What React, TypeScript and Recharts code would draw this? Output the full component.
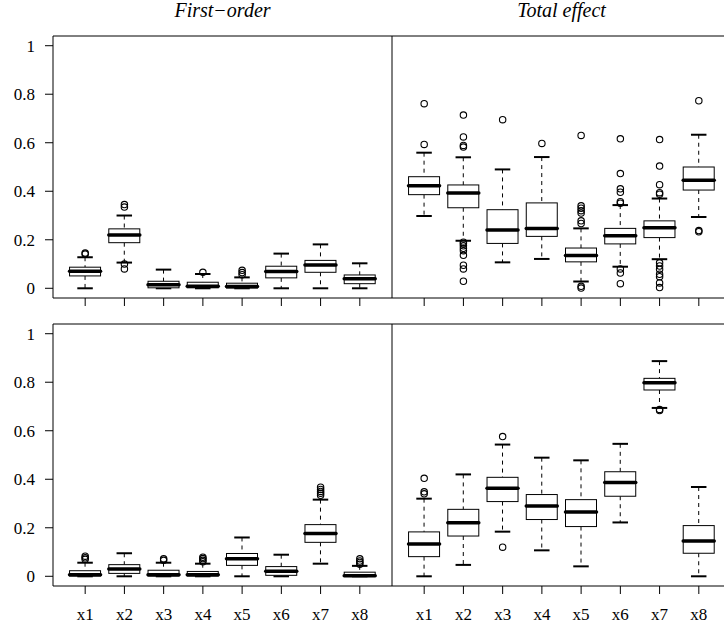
import React from 'react';
import { ComposedChart, Bar, Scatter, XAxis, YAxis, ReferenceArea } from 'recharts';

const categories = ['x1', 'x2', 'x3', 'x4', 'x5', 'x6', 'x7', 'x8'];
const yTicks = [0, 0.2, 0.4, 0.6, 0.8, 1];
const xTicks = [1, 2, 3, 4, 5, 6, 7, 8];

// Row 1, First-order
const r1FirstLow = [0.0, 0.106, 0.0, 0.0, 0.0, 0.0, 0.0, 0.0];
const r1FirstQ1 = [0.051, 0.188, 0.002, 0.002, 0.001, 0.043, 0.066, 0.019];
const r1FirstMed = [0.07, 0.22, 0.015, 0.008, 0.007, 0.069, 0.096, 0.039];
const r1FirstQ3 = [0.087, 0.245, 0.029, 0.025, 0.021, 0.091, 0.115, 0.055];
const r1FirstHigh = [0.128, 0.3, 0.077, 0.059, 0.045, 0.143, 0.181, 0.103];
const r1FirstOut = [
  [1, 0.145], [1, 0.141], [2, 0.345], [2, 0.335], [2, 0.1], [2, 0.08],
  [4, 0.066], [5, 0.074], [5, 0.065], [5, 0.056],
];

// Row 1, Total effect
const r1TotalLow = [0.298, 0.196, 0.107, 0.121, 0.028, 0.089, 0.12, 0.294];
const r1TotalQ1 = [0.386, 0.332, 0.185, 0.214, 0.109, 0.183, 0.209, 0.405];
const r1TotalMed = [0.423, 0.393, 0.24, 0.247, 0.135, 0.217, 0.25, 0.445];
const r1TotalQ3 = [0.46, 0.426, 0.324, 0.352, 0.166, 0.247, 0.278, 0.5];
const r1TotalHigh = [0.559, 0.54, 0.49, 0.541, 0.247, 0.343, 0.37, 0.633];
const r1TotalOut = [
  [1, 0.761], [1, 0.593],
  [2, 0.714], [2, 0.624], [2, 0.589], [2, 0.582], [2, 0.19], [2, 0.184], [2, 0.175],
  [2, 0.165], [2, 0.155], [2, 0.136], [2, 0.095], [2, 0.08], [2, 0.029],
  [3, 0.695], [4, 0.597],
  [5, 0.63], [5, 0.34], [5, 0.33], [5, 0.32], [5, 0.31], [5, 0.278], [5, 0.267],
  [5, 0.008], [5, 0.001],
  [6, 0.616], [6, 0.473], [6, 0.41], [6, 0.396], [6, 0.357], [6, 0.351],
  [6, 0.08], [6, 0.063], [6, 0.019],
  [7, 0.613], [7, 0.504], [7, 0.427], [7, 0.394], [7, 0.388],
  [7, 0.105], [7, 0.092], [7, 0.078], [7, 0.058], [7, 0.048], [7, 0.022], [7, 0.003],
  [8, 0.773], [8, 0.238], [8, 0.233],
];

// Row 2, First-order
const r2FirstLow = [0.0, 0.0, 0.0, 0.0, 0.0, 0.0, 0.052, 0.0];
const r2FirstQ1 = [0.001, 0.012, 0.001, 0.001, 0.045, 0.004, 0.14, 0.0];
const r2FirstMed = [0.006, 0.03, 0.006, 0.006, 0.072, 0.021, 0.176, 0.002];
const r2FirstQ3 = [0.023, 0.048, 0.025, 0.02, 0.094, 0.04, 0.213, 0.017];
const r2FirstHigh = [0.056, 0.095, 0.056, 0.052, 0.16, 0.089, 0.316, 0.043];
const r2FirstOut = [
  [1, 0.083], [1, 0.076], [1, 0.07], [3, 0.072], [3, 0.066],
  [4, 0.079], [4, 0.073], [4, 0.066], [4, 0.06],
  [7, 0.367], [7, 0.358], [7, 0.35], [7, 0.342], [7, 0.334],
  [8, 0.072], [8, 0.063], [8, 0.057], [8, 0.05],
];

// Row 2, Total effect
const r2TotalLow = [0.0, 0.047, 0.184, 0.107, 0.041, 0.222, 0.694, 0.0];
const r2TotalQ1 = [0.081, 0.166, 0.308, 0.234, 0.205, 0.33, 0.768, 0.095];
const r2TotalMed = [0.133, 0.221, 0.363, 0.29, 0.265, 0.387, 0.798, 0.146];
const r2TotalQ3 = [0.183, 0.276, 0.408, 0.337, 0.316, 0.431, 0.816, 0.209];
const r2TotalHigh = [0.32, 0.42, 0.543, 0.489, 0.478, 0.546, 0.887, 0.368];
const r2TotalOut = [
  [1, 0.404], [1, 0.348], [1, 0.34], [3, 0.576], [3, 0.12], [7, 0.683], [7, 0.688],
];

type Row = { x: number; name: string; lo: number; q1: number; med: number; q3: number; hi: number };

function buildRows(lo: number[], q1: number[], med: number[], q3: number[], hi: number[]): Row[] {
  return categories.map((name, i) => ({ x: i + 1, name, lo: lo[i], q1: q1[i], med: med[i], q3: q3[i], hi: hi[i] }));
}

function buildOut(pts: number[][]) {
  return pts.map(([x, y]) => ({ x, y }));
}

const BoxShape = (props: any) => {
  const { x, y, width, height } = props;
  const d = props.payload ?? props;
  const lo = d.lo, hi = d.hi;
  const k = height / (hi - lo);
  const py = (v: number) => y + (hi - v) * k;
  const cx = x + width / 2;
  const half = width / 2;
  const cap = width / 4;
  const yHi = py(hi), yLo = py(lo), yQ1 = py(d.q1), yQ3 = py(d.q3), yMed = py(d.med);
  return (
    <g>
      <line x1={cx} x2={cx} y1={yHi} y2={yQ3} stroke="#000" strokeWidth={1} strokeDasharray="4 4" />
      <line x1={cx} x2={cx} y1={yQ1} y2={yLo} stroke="#000" strokeWidth={1} strokeDasharray="4 4" />
      <line x1={cx - cap} x2={cx + cap} y1={yHi} y2={yHi} stroke="#000" strokeWidth={2} />
      <line x1={cx - cap} x2={cx + cap} y1={yLo} y2={yLo} stroke="#000" strokeWidth={2} />
      <rect x={cx - half} y={yQ3} width={width} height={Math.max(0, yQ1 - yQ3)} fill="#fff" stroke="#000" strokeWidth={1} />
      <line x1={cx - half} x2={cx + half} y1={yMed} y2={yMed} stroke="#000" strokeWidth={3.5} strokeLinecap="round" />
    </g>
  );
};

const OutlierShape = (props: any) => (
  <circle cx={props.cx} cy={props.cy} r={3.2} fill="none" stroke="#000" strokeWidth={1.1} />
);

const FONT = "'Liberation Serif', 'DejaVu Serif', serif";
const PLOT_TOP = 36;
const PLOT_H = 262;
const XAXIS_H = 40;

function Panel({ left, top, width, showY, showXLabels, rows, outliers }: {
  left: number; top: number; width: number; showY: boolean; showXLabels: boolean; rows: Row[]; outliers: { x: number; y: number }[];
}) {
  return (
    <div style={{ position: 'absolute', left, top, width, height: PLOT_TOP + PLOT_H + XAXIS_H, fontFamily: FONT }}>
      <ComposedChart
        width={width}
        height={PLOT_TOP + PLOT_H + XAXIS_H}
        data={rows}
        margin={{ top: PLOT_TOP, right: 0, bottom: 0, left: 0 }}
        style={{ fontFamily: FONT }}
      >
        <XAxis
          dataKey="x"
          type="number"
          domain={[0.18, 8.82]}
          allowDataOverflow
          ticks={xTicks}
          interval={0}
          height={XAXIS_H}
          axisLine={false}
          tickSize={8}
          tickMargin={14}
          stroke="#000"
          tickLine={{ stroke: '#000' }}
          tick={{ fontFamily: FONT, fontSize: 17, fill: '#000', style: { fontFamily: FONT } }}
          tickFormatter={(v: number) => (showXLabels ? categories[v - 1] : '')}
        />
        <YAxis
          type="number"
          domain={[-0.04, 1.04]}
          allowDataOverflow
          ticks={yTicks}
          interval={0}
          hide={!showY}
          width={53}
          axisLine={false}
          tickSize={8}
          tickMargin={10}
          stroke="#000"
          tickLine={{ stroke: '#000' }}
          tick={{ fontFamily: FONT, fontSize: 17, fill: '#000', style: { fontFamily: FONT } }}
          tickFormatter={(v: number) => String(v)}
        />
        <Bar
          dataKey={(d: Row) => [d.lo, d.hi]}
          barSize={31}
          shape={BoxShape}
          isAnimationActive={false}
        />
        <Scatter
          data={outliers}
          dataKey="y"
          shape={OutlierShape}
          isAnimationActive={false}
        />
        <ReferenceArea
          x1={0.18}
          x2={8.82}
          y1={-0.04}
          y2={1.04}
          fill="none"
          fillOpacity={0}
          stroke="#000"
          strokeWidth={1}
          ifOverflow="visible"
        />
      </ComposedChart>
    </div>
  );
}

export default function App() {
  return (
    <div style={{ position: 'absolute', left: 0, top: 0, width: 724, height: 625, overflow: 'hidden', background: '#fff', fontFamily: FONT }}>
      <svg width={724} height={30} style={{ position: 'absolute', left: 0, top: 0 }}>
        <text x={222.5} y={17} textAnchor="middle" style={{ fontFamily: FONT, fontStyle: 'italic', fontSize: 20 }} fill="#000">First−order</text>
        <text x={561.5} y={17} textAnchor="middle" style={{ fontFamily: FONT, fontStyle: 'italic', fontSize: 20 }} fill="#000">Total effect</text>
      </svg>
      <Panel left={0} top={0} width={392} showY showXLabels={false}
        rows={buildRows(r1FirstLow, r1FirstQ1, r1FirstMed, r1FirstQ3, r1FirstHigh)} outliers={buildOut(r1FirstOut)} />
      <Panel left={392} top={0} width={339} showY={false} showXLabels={false}
        rows={buildRows(r1TotalLow, r1TotalQ1, r1TotalMed, r1TotalQ3, r1TotalHigh)} outliers={buildOut(r1TotalOut)} />
      <Panel left={0} top={288} width={392} showY showXLabels
        rows={buildRows(r2FirstLow, r2FirstQ1, r2FirstMed, r2FirstQ3, r2FirstHigh)} outliers={buildOut(r2FirstOut)} />
      <Panel left={392} top={288} width={339} showY={false} showXLabels
        rows={buildRows(r2TotalLow, r2TotalQ1, r2TotalMed, r2TotalQ3, r2TotalHigh)} outliers={buildOut(r2TotalOut)} />
    </div>
  );
}
